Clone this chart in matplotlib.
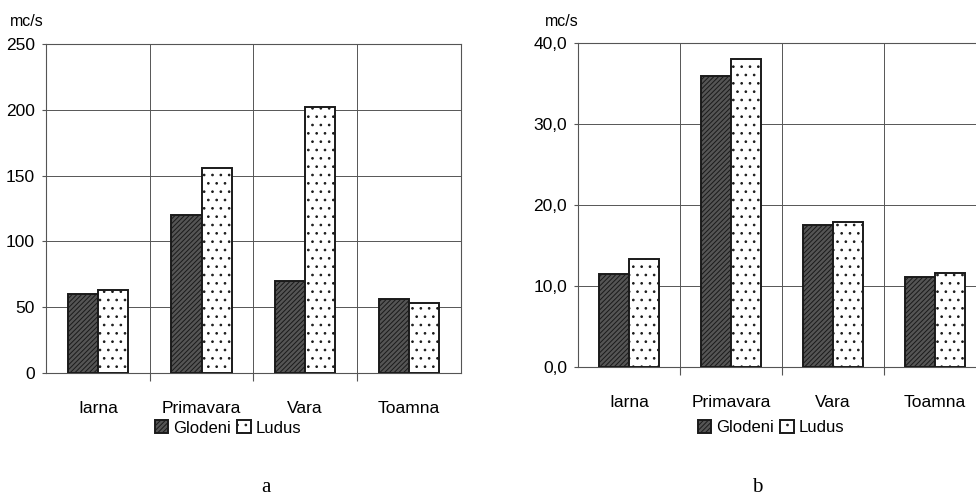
import matplotlib
matplotlib.use("Agg")
import matplotlib.pyplot as plt
import numpy as np
from matplotlib.ticker import FixedLocator, FixedFormatter

plt.rcParams['font.family'] = ['Liberation Sans Narrow', 'Liberation Sans', 'DejaVu Sans']
plt.rcParams['hatch.linewidth'] = 0.7

categories = ['Iarna', 'Primavara', 'Vara', 'Toamna']
series_names = ['Glodeni', 'Ludus']

# Chart a
glodeni_a = [60, 120, 70, 56]
ludus_a = [63, 156, 202, 53]
yticks_a = [0, 50, 100, 150, 200, 250]
yticklabels_a = ['0', '50', '100', '150', '200', '250']

# Chart b
glodeni_b = [11.5, 36.0, 17.6, 11.1]
ludus_b = [13.3, 38.1, 17.9, 11.65]
yticks_b = [0, 10, 20, 30, 40]
yticklabels_b = ['0,0', '10,0', '20,0', '30,0', '40,0']

unit_label = 'mc/s'
panel_labels = ['a', 'b']

W, H = 976, 496
fig = plt.figure(figsize=(W / 100, H / 100), dpi=100)


def px_axes(x0, x1, ytop, ybot):
    return fig.add_axes([x0 / W, (H - ybot) / H, (x1 - x0) / W, (ybot - ytop) / H])


def draw(ax, g, l, yt, ytl, legend_x, legend_y):
    x = np.arange(len(categories))
    w = 0.29
    ax.bar(x - w / 2, g, w, facecolor='#555555', edgecolor='#1a1a1a', hatch='///////',
           linewidth=1.4, label=series_names[0], zorder=3)
    ax.bar(x + w / 2, l, w, facecolor='white', edgecolor='#1a1a1a', hatch='..',
           linewidth=1.4, label=series_names[1], zorder=3)
    ax.set_xlim(-0.5, len(categories) - 0.5)
    ax.set_ylim(yt[0], yt[-1])
    ax.yaxis.set_major_locator(FixedLocator(yt))
    ax.yaxis.set_major_formatter(FixedFormatter(ytl))
    ax.set_xticks(x)
    ax.set_xticklabels(categories)
    ax.set_xticks(x[:-1] + 0.5, minor=True)
    ax.tick_params(axis='x', which='major', length=0, pad=20, labelsize=12.5)
    ax.tick_params(axis='x', which='minor', length=6, width=0.8, color='#555555', direction='out')
    ax.tick_params(axis='y', length=3, width=0.8, color='#555555', pad=5, labelsize=12.5)
    ax.grid(True, axis='y', which='major', color='#555555', linewidth=0.7, zorder=0)
    ax.grid(True, axis='x', which='minor', color='#555555', linewidth=0.7, zorder=0)
    ax.set_axisbelow(True)
    for s in ax.spines.values():
        s.set_color('#555555')
        s.set_linewidth(0.8)
    ax.legend(loc='center', bbox_to_anchor=(legend_x, legend_y), ncol=2, frameon=False,
              handlelength=0.8, handleheight=0.8, handletextpad=0.3, columnspacing=0.4,
              fontsize=12, borderaxespad=0)


ax1 = px_axes(46, 460.7, 44, 373)
draw(ax1, glodeni_a, ludus_a, yticks_a, yticklabels_a, 0.439, -0.167)
ax2 = px_axes(578, 986, 43.3, 367)
draw(ax2, glodeni_b, ludus_b, yticks_b, yticklabels_b, 0.473, -0.188)

fig.text(10 / W, 1 - 21 / H, unit_label, fontsize=11.5, ha='left', va='center')
fig.text(545 / W, 1 - 22 / H, unit_label, fontsize=11.5, ha='left', va='center')
fig.text(266 / W, 1 - 488 / H, panel_labels[0], fontsize=15, ha='center', va='center',
         family=['Liberation Serif', 'DejaVu Serif'])
fig.text(757 / W, 1 - 488 / H, panel_labels[1], fontsize=15, ha='center', va='center',
         family=['Liberation Serif', 'DejaVu Serif'])

fig.savefig('out.png', dpi=100)
